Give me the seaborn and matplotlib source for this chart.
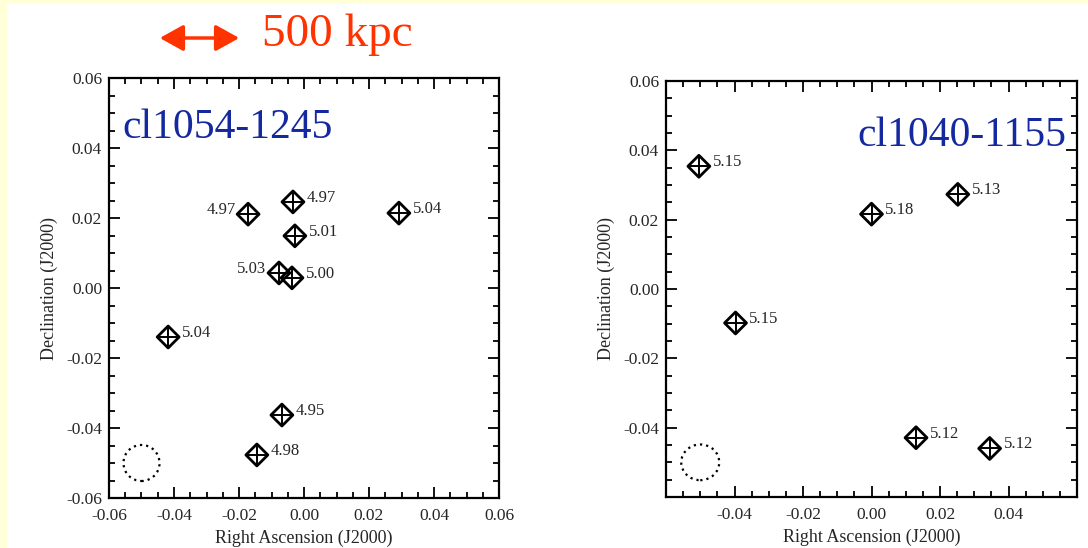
import seaborn as sns
import matplotlib.pyplot as plt
import pandas as pd
from matplotlib.patches import Ellipse, Rectangle, FancyArrowPatch
from matplotlib.ticker import MultipleLocator, FixedFormatter, FixedLocator

sns.set_style("white")
plt.rcParams['font.family'] = ['Liberation Serif', 'DejaVu Serif']

# cluster cl1054-1245
ra_1054 = [-0.0172, -0.0034, 0.0292, -0.0028, -0.0077, -0.0037, -0.0418, -0.0068, -0.0145]
dec_1054 = [0.0211, 0.0246, 0.0214, 0.0149, 0.0043, 0.0029, -0.0140, -0.0363, -0.0477]
z_1054 = ["4.97", "4.97", "5.04", "5.01", "5.03", "5.00", "5.04", "4.95", "4.98"]
side_1054 = ["left", "right", "right", "right", "left", "right", "right", "right", "right"]

# cluster cl1040-1155
ra_1040 = [-0.0504, 0.0000, 0.0252, -0.0397, 0.0130, 0.0345]
dec_1040 = [0.0354, 0.0216, 0.0273, -0.0098, -0.0429, -0.0460]
z_1040 = ["5.15", "5.18", "5.13", "5.15", "5.12", "5.12"]
side_1040 = ["right"] * 6

# beam / aperture circle
circle_xy = (-0.050, -0.050)

YELLOW = "#ffffd8"
BLUE = "#1428a0"
RED = "#ff3300"

fig = plt.figure(figsize=(10.88, 5.48), dpi=100, facecolor=YELLOW)
fig.patches.append(Rectangle((7 / 1088, 0), 1, 1 - 4 / 548, transform=fig.transFigure,
                             facecolor="white", edgecolor="none", zorder=-5))

ax1 = fig.add_axes([109 / 1088, 50 / 548, 390 / 1088, 420 / 548])
ax2 = fig.add_axes([666 / 1088, 51 / 548, 411 / 1088, 416 / 548])


def draw_panel(ax, ra, dec, z, side, name, name_xy, name_ha):
    df = pd.DataFrame({"ra": ra, "dec": dec})
    sns.scatterplot(data=df, x="ra", y="dec", ax=ax, marker="D", s=125,
                    facecolors="none", edgecolor="black", linewidth=2.0, zorder=3)
    sns.scatterplot(data=df, x="ra", y="dec", ax=ax, marker="+", s=250,
                    color="black", linewidth=1.4, zorder=3)
    for x, y, t, sd in zip(ra, dec, z, side):
        if sd == "right":
            ax.annotate(t, (x, y), xytext=(10, 0), textcoords="offset points",
                        ha="left", va="baseline", fontsize=12)
        else:
            ax.annotate(t, (x, y), xytext=(-9, 0), textcoords="offset points",
                        ha="right", va="baseline", fontsize=12)
    ax.add_patch(Ellipse(circle_xy, 0.0111, 0.0103, fill=False, edgecolor="black",
                         linestyle=(0, (1, 1.8)), linewidth=1.6))
    ax.text(name_xy[0], name_xy[1], name, ha=name_ha, va="baseline",
            fontsize=30, color=BLUE)
    ax.set_xlim(-0.06, 0.06)
    ax.set_ylim(-0.06, 0.06)
    ax.xaxis.set_minor_locator(MultipleLocator(0.005))
    ax.yaxis.set_minor_locator(MultipleLocator(0.005))
    ax.tick_params(which="both", direction="in", top=True, right=True,
                   bottom=True, left=True, width=1.3, labelsize=12.5, color="black")
    ax.tick_params(which="major", length=8)
    ax.tick_params(which="minor", length=4)
    ax.tick_params(axis="x", which="major", pad=7)
    ax.tick_params(axis="y", which="major", pad=5)
    ax.set_xlabel("Right Ascension (J2000)", fontsize=13, labelpad=4)
    ax.set_ylabel("Declination (J2000)", fontsize=13, labelpad=6)
    for s in ax.spines.values():
        s.set_linewidth(1.6)
        s.set_color("black")


draw_panel(ax1, ra_1054, dec_1054, z_1054, side_1054, "cl1054-1245", (-0.056, 0.0429), "left")
draw_panel(ax2, ra_1040, dec_1040, z_1040, side_1040, "cl1040-1155", (0.0568, 0.0412), "right")

xt1 = [-0.06, -0.04, -0.02, 0.0, 0.02, 0.04, 0.06]
ax1.xaxis.set_major_locator(FixedLocator(xt1))
ax1.xaxis.set_major_formatter(FixedFormatter(["%.2f" % v for v in xt1]))
ax1.yaxis.set_major_locator(FixedLocator(xt1))
ax1.yaxis.set_major_formatter(FixedFormatter(["%.2f" % v for v in xt1]))

xt2 = [-0.04, -0.02, 0.0, 0.02, 0.04]
ax2.xaxis.set_major_locator(FixedLocator(xt2))
ax2.xaxis.set_major_formatter(FixedFormatter(["%.2f" % v for v in xt2]))
yt2 = [-0.04, -0.02, 0.0, 0.02, 0.04, 0.06]
ax2.yaxis.set_major_locator(FixedLocator(yt2))
ax2.yaxis.set_major_formatter(FixedFormatter(["%.2f" % v for v in yt2]))

# scale bar
fig.patches.append(FancyArrowPatch((157 / 1088, 510 / 548), (242 / 1088, 510 / 548),
                                   transform=fig.transFigure, arrowstyle="<|-|>,head_length=9,head_width=5",
                                   color=RED, linewidth=2.5, mutation_scale=1.6))
fig.text(262 / 1088, 502 / 548, "500 kpc", color=RED, fontsize=34, va="baseline", ha="left")

fig.savefig("out.png", dpi=100, facecolor=YELLOW)
